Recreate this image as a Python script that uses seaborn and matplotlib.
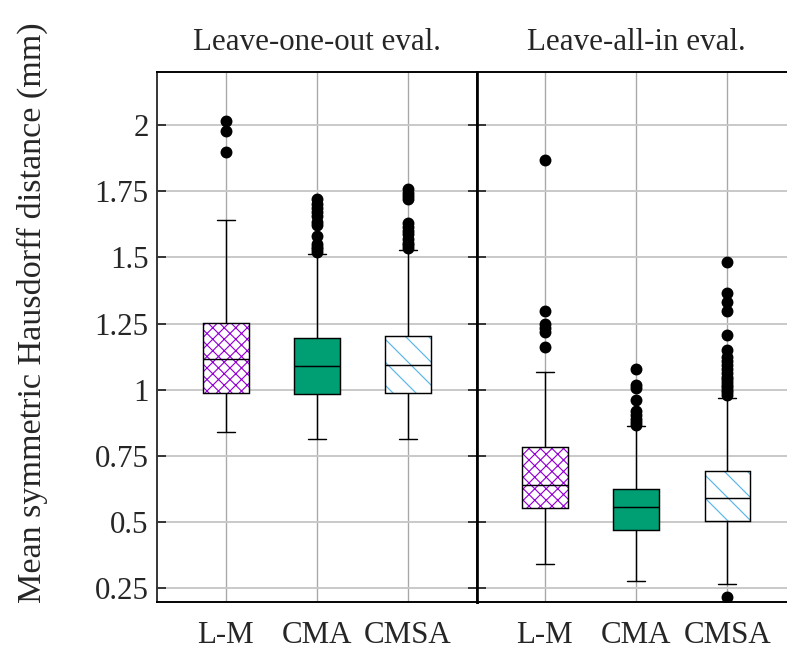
import numpy as np
import pandas as pd
import matplotlib
matplotlib.use("Agg")
import matplotlib.pyplot as plt
import matplotlib.colors as mcolors
import seaborn as sns

# ---------------- data ----------------
methods = ["L-M", "CMA", "CMSA"]
titles = ["Leave-one-out eval.", "Leave-all-in eval."]

# Leave-one-out evaluation: box statistics per method
loo_q1 = [0.989, 0.984, 0.988]
loo_med = [1.118, 1.089, 1.093]
loo_q3 = [1.251, 1.196, 1.205]
loo_wlo = [0.840, 0.813, 0.815]
loo_whi = [1.643, 1.511, 1.529]
loo_out_lm = [2.016, 1.979, 1.897]
loo_out_cma = [1.721, 1.700, 1.685, 1.670, 1.655, 1.632, 1.622, 1.582, 1.550, 1.540, 1.530, 1.520]
loo_out_cmsa = [1.757, 1.745, 1.730, 1.720, 1.630, 1.615, 1.600, 1.590, 1.570, 1.555, 1.545, 1.535]

# Leave-all-in evaluation: box statistics per method
lai_q1 = [0.555, 0.469, 0.505]
lai_med = [0.642, 0.559, 0.593]
lai_q3 = [0.785, 0.627, 0.693]
lai_wlo = [0.344, 0.280, 0.266]
lai_whi = [1.068, 0.862, 0.970]
lai_out_lm = [1.868, 1.296, 1.250, 1.235, 1.220, 1.161]
lai_out_cma = [1.077, 1.020, 1.005, 0.963, 0.920, 0.905, 0.890, 0.878, 0.868]
lai_out_cmsa = [1.482, 1.366, 1.330, 1.296, 1.208, 1.152, 1.125, 1.110, 1.095, 1.080,
                1.065, 1.050, 1.040, 1.030, 1.020, 1.010, 1.000, 0.990, 0.980, 0.218]

yticks = [0.25, 0.5, 0.75, 1.0, 1.25, 1.5, 1.75, 2.0]
yticklabels = ["0.25", "0.5", "0.75", "1", "1.25", "1.5", "1.75", "2"]

fill_colors = ["white", "#009E73", "white"]
hatches = ["xxxx", "", "\\\\"]
hatch_colors = ["#9400D3", "#009E73", "#56B4E9"]


def sample_from_stats(q1, med, q3, wlo, whi, outliers, k=40):
    """Build a sample whose box-plot statistics equal the given summary."""
    return [wlo] + [q1] * k + [med] * k + [q3] * k + [whi] + list(outliers)


def panel_frame(q1, med, q3, wlo, whi, outs):
    rows = []
    for i, m in enumerate(methods):
        for v in sample_from_stats(q1[i], med[i], q3[i], wlo[i], whi[i], outs[i]):
            rows.append({"method": m, "value": v})
    return pd.DataFrame(rows)


df_loo = panel_frame(loo_q1, loo_med, loo_q3, loo_wlo, loo_whi,
                     [loo_out_lm, loo_out_cma, loo_out_cmsa])
df_lai = panel_frame(lai_q1, lai_med, lai_q3, lai_wlo, lai_whi,
                     [lai_out_lm, lai_out_cma, lai_out_cmsa])

# ---------------- figure ----------------
sns.set_theme(style="white")
plt.rcParams["font.family"] = ["Liberation Serif", "DejaVu Serif"]
plt.rcParams["hatch.linewidth"] = 0.6

DPI = 138
W_PX, H_PX = 787, 654
fig = plt.figure(figsize=(W_PX / DPI, H_PX / DPI), dpi=DPI)

x0, xdiv, ybot, ytop = 157.3, 476.5, 601.7, 72.0
axw = (xdiv - x0) / W_PX
axh = (ybot - ytop) / H_PX
axb = (H_PX - ybot) / H_PX
ax1 = fig.add_axes([x0 / W_PX, axb, axw, axh])
ax2 = fig.add_axes([xdiv / W_PX, axb, axw, axh], sharey=ax1)

for ax, df in ((ax1, df_loo), (ax2, df_lai)):
    sns.boxplot(data=df, x="method", y="value", hue="method", order=methods,
                hue_order=methods, palette=fill_colors, legend=False, saturation=1,
                width=0.5, linecolor="black", linewidth=0.75, fliersize=5.2,
                flierprops=dict(marker="o", markerfacecolor="black",
                                markeredgecolor="black"),
                capwidths=0.2, ax=ax)
    for p in ax.patches:
        ext = p.get_path().get_extents()
        idx = int(round((ext.x0 + ext.x1) / 2))
        p.set_edgecolor("black")
        if hatches[idx]:
            p.set_hatch(hatches[idx])
            if hasattr(p, "set_hatchcolor"):
                p.set_hatchcolor(hatch_colors[idx])
            else:
                p._hatch_color = mcolors.to_rgba(hatch_colors[idx])

    ax.set_xlim(-0.75, 2.75)
    ax.set_ylim(0.2, 2.2)
    ax.set_xlabel("")
    ax.set_ylabel("")
    ax.set_axisbelow(True)
    ax.grid(True, axis="y", color="#c8c8c8", lw=1.0)
    ax.grid(True, axis="x", color="#a8a8a8", lw=0.7)
    ax.tick_params(axis="y", direction="in", length=4.7, width=1.0,
                   left=True, right=True, color="#333333", labelsize=16.2, pad=4.5)
    ax.tick_params(axis="x", length=0, labelsize=16.2, pad=10)
    for s in ax.spines.values():
        s.set_color("black")
        s.set_linewidth(1.0)

ax1.set_yticks(yticks)
ax1.set_yticklabels(yticklabels)
ax2.tick_params(axis="y", labelleft=False)
ax1.spines["left"].set_color("#333333")
ax1.spines["right"].set_linewidth(1.4)
ax2.spines["left"].set_linewidth(1.4)

for ax, t in ((ax1, titles[0]), (ax2, titles[1])):
    pos = ax.get_position()
    fig.text(pos.x0 + pos.width / 2, 1 - 50 / H_PX, t, ha="center",
             va="baseline", fontsize=16.2)

fig.text(32 / W_PX, 1 - 313 / H_PX, "Mean symmetric Hausdorff distance (mm)",
         rotation=90, ha="center", va="center", fontsize=17.8)

fig.savefig("out.png", dpi=DPI)
